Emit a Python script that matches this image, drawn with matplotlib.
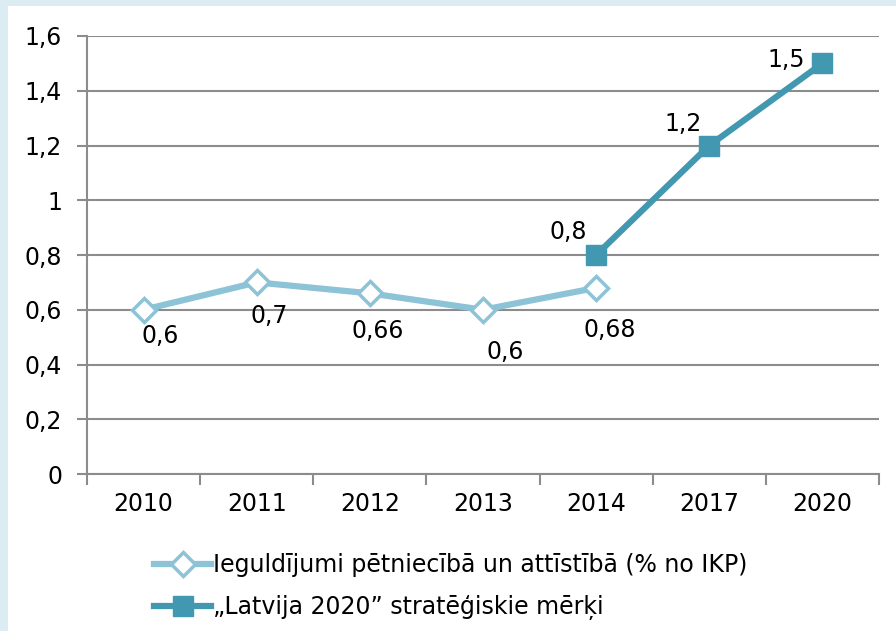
import numpy as np
import matplotlib.pyplot as plt
from matplotlib.patches import Rectangle

years = ['2010', '2011', '2012', '2013', '2014', '2017', '2020']
investments = [0.6, 0.7, 0.66, 0.6, 0.68, np.nan, np.nan]
targets = [np.nan, np.nan, np.nan, np.nan, 0.8, 1.2, 1.5]
inv_labels = ['0,6', '0,7', '0,66', '0,6', '0,68']
tgt_labels = ['0,8', '1,2', '1,5']
y_ticks = [0, 0.2, 0.4, 0.6, 0.8, 1.0, 1.2, 1.4, 1.6]
y_tick_labels = ['0', '0,2', '0,4', '0,6', '0,8', '1', '1,2', '1,4', '1,6']

light = '#8dc3d6'
dark = '#4198b0'
grid_c = '#8c8c8c'
fs = 17

plt.rcParams['font.family'] = ['DejaVu Sans']

fig = plt.figure(figsize=(8.96, 6.31), dpi=100)
fig.patch.set_facecolor('#dbedf3')
fig.patches.append(Rectangle((8 / 896, 0), 1, (631 - 6) / 631, transform=fig.transFigure,
                             facecolor='white', edgecolor='none', zorder=-10))

ax = fig.add_axes([87 / 896, 157 / 631, 792 / 896, 438 / 631])
ax.set_facecolor('white')
x = np.arange(len(years))

ax.plot(x, investments, color=light, lw=4.5, marker='D', ms=12, mfc='white',
        mec=light, mew=2.5, label='Ieguldījumi pētniecībā un attīstībā (% no IKP)', zorder=3)
ax.plot(x, targets, color=dark, lw=4.5, marker='s', ms=14.5, mfc=dark, mec=dark,
        label='„Latvija 2020” stratēģiskie mērķi', zorder=4)

# data labels, offsets in pixels like the original
inv_off = [(17, -26), (12, -34), (8, -38), (22, -42), (14, -42)]
for i, (lab, off) in enumerate(zip(inv_labels, inv_off)):
    ax.annotate(lab, (x[i], investments[i]), xytext=(off[0] * 0.72, off[1] * 0.72),
                textcoords='offset points', ha='center', va='center', fontsize=fs)
tgt_off = [(-28, 23), (-26, 22), (-36, 3)]
for j, (lab, off) in enumerate(zip(tgt_labels, tgt_off)):
    i = 4 + j
    ax.annotate(lab, (x[i], targets[i]), xytext=(off[0] * 0.72, off[1] * 0.72),
                textcoords='offset points', ha='center', va='center', fontsize=fs)

ax.set_xlim(-0.5, len(years) - 0.5)
ax.set_ylim(0, 1.6)
ax.set_yticks(y_ticks)
ax.set_yticklabels(y_tick_labels, fontsize=fs)
ax.yaxis.grid(True, color=grid_c, lw=1.5)
ax.set_axisbelow(True)

ax.set_xticks(np.arange(-0.5, len(years), 1.0))
ax.set_xticklabels([])
ax.set_xticks(x, minor=True)
ax.set_xticklabels(years, minor=True, fontsize=fs)
ax.tick_params(axis='x', which='major', length=8, width=1.5, color=grid_c, direction='out')
ax.tick_params(axis='x', which='minor', length=0, pad=13)
ax.tick_params(axis='y', length=7, width=1.5, color=grid_c, pad=11)

for s in ['top', 'right']:
    ax.spines[s].set_visible(False)
ax.spines['left'].set_color(grid_c)
ax.spines['bottom'].set_color(grid_c)
ax.spines['left'].set_linewidth(1.5)
ax.spines['bottom'].set_linewidth(1.5)

leg = fig.legend(loc='upper left', bbox_to_anchor=(145 / 896, 87 / 631), frameon=False,
                 fontsize=fs, numpoints=1, handlelength=2.4, handletextpad=0.1,
                 labelspacing=0.75, borderaxespad=0)

fig.savefig('out.png', dpi=100, facecolor=fig.get_facecolor())
